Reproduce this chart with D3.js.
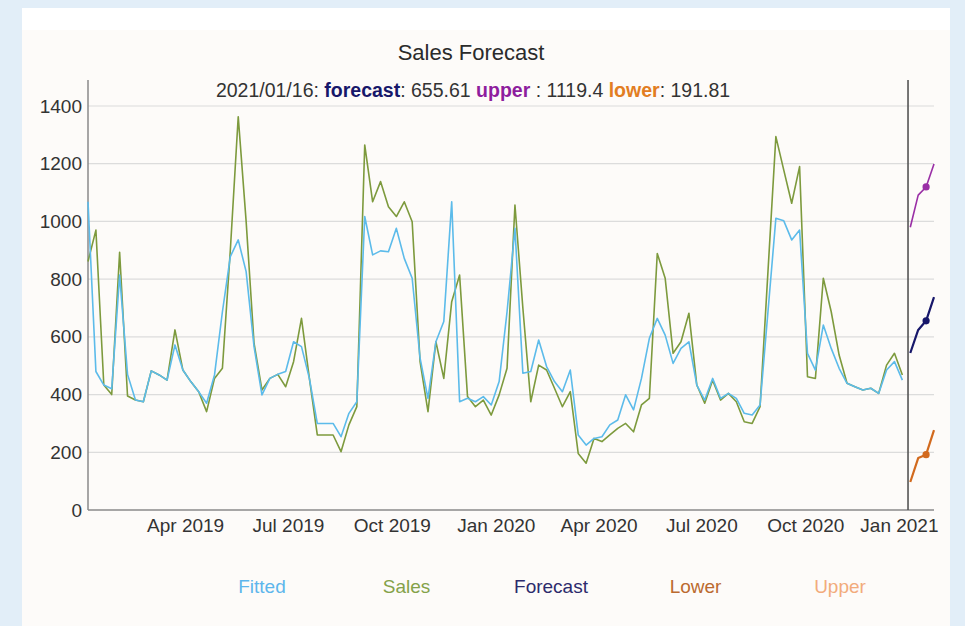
<!DOCTYPE html>
<html>
<head>
<meta charset="utf-8">
<script src="https://cdn.jsdelivr.net/npm/d3@7"></script>
<style>
  html, body { margin: 0; padding: 0; background: #e2eef8; }
  svg { display: block; font-family: "Liberation Sans", Arial, Helvetica, sans-serif; }
</style>
</head>
<body>
<svg id="chart" width="965" height="626"></svg>
<script>
// ---------- DATA ----------
const startDate = "2019-01-05";           // first weekly observation (Saturdays)
const salesValues = [
  861, 970, 433, 400, 893, 395, 381, 375, 482, 468,
  450, 624, 485, 445, 410, 341, 456, 491, 900, 1363,
  1000, 578, 416, 456, 470, 427, 514, 664, 456, 260,
  260, 260, 202, 295, 358, 1265, 1068, 1138, 1051, 1017,
  1068, 999, 514, 341, 583, 456, 722, 814, 393, 358,
  381, 329, 399, 491, 1057, 700, 375, 502, 485, 422,
  358, 410, 196, 162, 248, 237, 260, 283, 300, 271,
  364, 387, 889, 803, 543, 583, 682, 433, 370, 450,
  381, 404, 375, 306, 300, 358, 826, 1294, 1178, 1063,
  1190, 462, 456, 803, 687, 537, 439, 427, 416, 422,
  404, 502, 543, 468
];
const fittedValues = [
  1068, 480, 433, 420, 814, 470, 381, 375, 482, 468,
  450, 572, 485, 445, 410, 370, 468, 687, 878, 936,
  826, 566, 399, 456, 470, 480, 583, 566, 456, 300,
  300, 300, 254, 335, 375, 1017, 884, 898, 895, 976,
  872, 803, 526, 387, 583, 653, 1068, 375, 387, 375,
  393, 364, 445, 687, 976, 474, 480, 589, 497, 445,
  410, 485, 260, 225, 248, 254, 295, 312, 399, 347,
  456, 595, 664, 606, 508, 560, 583, 433, 381, 456,
  387, 404, 387, 335, 329, 364, 687, 1011, 1002, 936,
  970, 543, 485, 641, 560, 491, 439, 427, 416, 422,
  404, 485, 514, 450
];
const forecastDates = ["2021-01-02", "2021-01-09", "2021-01-16", "2021-01-23"];
const forecastValues = [544, 624, 655.61, 738];
const upperValues    = [980, 1091, 1119.4, 1199];
const lowerValues    = [97, 180, 191.81, 277];
const highlightDate  = "2021-01-16";
const markerDate     = "2020-12-31";
const xTickDates = ["2019-04-01", "2019-07-01", "2019-10-01", "2020-01-01",
                    "2020-04-01", "2020-07-01", "2020-10-01", "2021-01-01"];
const yTickValues = [0, 200, 400, 600, 800, 1000, 1200, 1400];
const legendLabels = ["Fitted", "Sales", "Forecast", "Lower", "Upper"];

// ---------- SETUP ----------
const parse = d3.utcParse("%Y-%m-%d");
const svg = d3.select("#chart");
const W = 965, H = 626;

const colors = {
  fitted: "#5cbbea", sales: "#7d9a3d", forecast: "#17176a",
  upper: "#9a2fa6", lower: "#d26a1e"
};
const legendColors = ["#5db6ec", "#84a24a", "#2c2a6c", "#bb6a30", "#f2ab7c"];

// background panel
svg.append("rect").attr("x", 0).attr("y", 0).attr("width", W).attr("height", H).attr("fill", "#e2eef8");
svg.append("rect").attr("x", 22).attr("y", 8).attr("width", 928).attr("height", H - 8).attr("fill", "#ffffff");
svg.append("rect").attr("x", 22).attr("y", 30).attr("width", 928).attr("height", H - 30).attr("fill", "#fdfbf9");

const start = parse(startDate);
const dates = salesValues.map((_, i) => d3.utcDay.offset(start, 7 * i));

const x = d3.scaleUtc()
  .domain([start, parse("2021-01-23")])
  .range([88, 934]);
const y = d3.scaleLinear().domain([0, 1400]).range([510, 106]);

// grid lines
svg.append("g").selectAll("line").data(yTickValues.filter(v => v > 0)).join("line")
  .attr("x1", 88).attr("x2", 934)
  .attr("y1", d => y(d)).attr("y2", d => y(d))
  .attr("stroke", "#dcdcdc").attr("stroke-width", 1.2);

// y axis
const yAxis = svg.append("g").attr("transform", "translate(88,0)")
  .call(d3.axisLeft(y).tickValues(yTickValues).tickSize(0).tickPadding(6).tickFormat(d3.format("d")));
yAxis.select(".domain").remove();
yAxis.selectAll("text").attr("font-size", 19).attr("fill", "#333").attr("font-family", "Liberation Sans, Arial, sans-serif");
svg.append("line").attr("x1", 88).attr("x2", 88).attr("y1", 80).attr("y2", 510)
  .attr("stroke", "#8a8a8a").attr("stroke-width", 1.5);

// x axis
const xAxis = svg.append("g").attr("transform", "translate(0,510)")
  .call(d3.axisBottom(x).tickValues(xTickDates.map(parse)).tickSize(0).tickPadding(9)
    .tickFormat(d3.utcFormat("%b %Y")));
xAxis.select(".domain").remove();
xAxis.selectAll("text").attr("font-size", 19).attr("fill", "#333").attr("font-family", "Liberation Sans, Arial, sans-serif");
xAxis.selectAll(".tick").filter((d, i, n) => i === n.length - 1).select("text")
  .attr("text-anchor", "end").attr("dx", 938 - x(parse("2021-01-01")));
svg.append("line").attr("x1", 88).attr("x2", 934).attr("y1", 510).attr("y2", 510)
  .attr("stroke", "#8a8a8a").attr("stroke-width", 1.5);

// marker line
svg.append("line")
  .attr("x1", x(parse(markerDate))).attr("x2", x(parse(markerDate)))
  .attr("y1", 80).attr("y2", 510)
  .attr("stroke", "#555").attr("stroke-width", 1.6);

// lines
const line = d3.line().x(d => x(d[0])).y(d => y(d[1]));
function drawSeries(ds, vs, color, width) {
  svg.append("path").datum(ds.map((d, i) => [d, vs[i]]))
    .attr("d", line).attr("fill", "none")
    .attr("stroke", color).attr("stroke-width", width)
    .attr("stroke-linejoin", "round");
}
drawSeries(dates, salesValues, colors.sales, 1.6);
drawSeries(dates, fittedValues, colors.fitted, 1.6);

const fDates = forecastDates.map(parse);
drawSeries(fDates, upperValues, colors.upper, 1.6);
drawSeries(fDates, forecastValues, colors.forecast, 2.2);
drawSeries(fDates, lowerValues, colors.lower, 2.2);

const hi = forecastDates.indexOf(highlightDate);
[[forecastValues, colors.forecast], [upperValues, colors.upper], [lowerValues, colors.lower]]
  .forEach(([vs, c]) => {
    svg.append("circle").attr("cx", x(fDates[hi])).attr("cy", y(vs[hi]))
      .attr("r", 3.6).attr("fill", c);
  });

// title
svg.append("text").attr("x", 471).attr("y", 60).attr("text-anchor", "middle")
  .attr("font-size", 22).attr("fill", "#2b2b2b").text("Sales Forecast");

// hover legend line
const sub = svg.append("text").attr("x", 473).attr("y", 97).attr("text-anchor", "middle")
  .attr("font-size", 19.5).attr("fill", "#333");
const fmt = v => String(v);
sub.append("tspan").text(highlightDate.replace(/-/g, "/") + ": ");
sub.append("tspan").attr("font-weight", "bold").attr("fill", colors.forecast).text("forecast");
sub.append("tspan").text(": " + fmt(forecastValues[hi]) + " ");
sub.append("tspan").attr("font-weight", "bold").attr("fill", "#8e1d9e").text("upper");
sub.append("tspan").text(" : " + fmt(upperValues[hi]) + " ");
sub.append("tspan").attr("font-weight", "bold").attr("fill", "#e27d22").text("lower");
sub.append("tspan").text(": " + fmt(lowerValues[hi]));

// legend
const legendX = d3.scalePoint().domain(legendLabels).range([262, 840]);
svg.append("g").selectAll("text").data(legendLabels).join("text")
  .attr("x", d => legendX(d)).attr("y", 593).attr("text-anchor", "middle")
  .attr("font-size", 19).attr("fill", (d, i) => legendColors[i]).text(d => d);
</script>
</body>
</html>
